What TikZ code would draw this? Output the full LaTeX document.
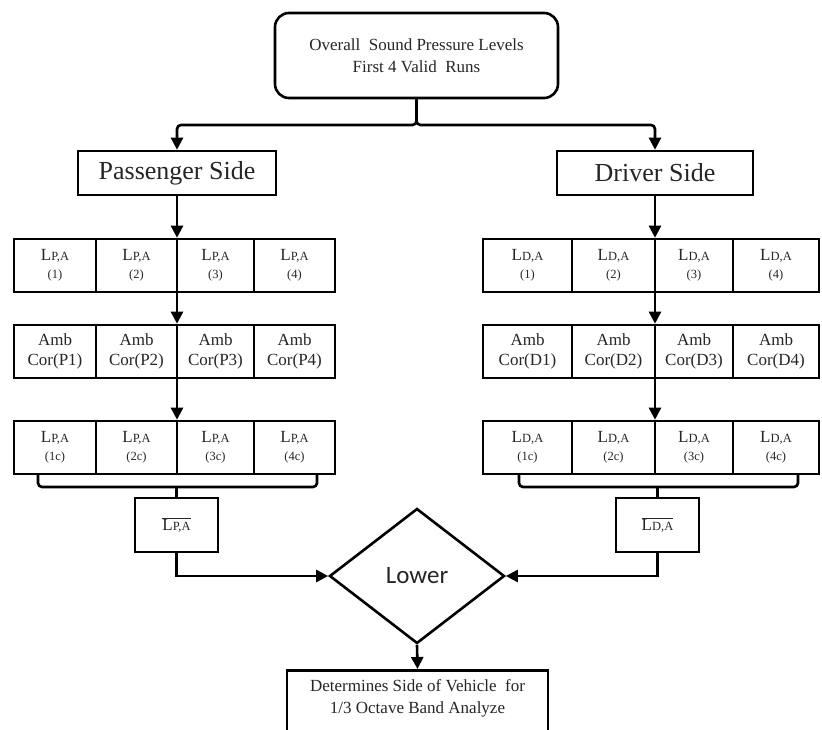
\documentclass[tikz,border=0pt]{standalone}
\usepackage{fontspec}
\setmainfont{Liberation Serif}
\newfontfamily\calib{Carlito}
\usetikzlibrary{arrows.meta,shapes.geometric}
\newcommand{\LPA}[1]{L{\fontsize{12.5}{18}\selectfont #1}}
\newcommand{\numl}[1]{{\fontsize{12.5}{18}\selectfont #1}}
\begin{document}
\begin{tikzpicture}[x=1pt,y=-1pt,
  ln/.style={line width=2.6pt},
  arr/.style={line width=2.6pt,-{Triangle[width=12pt,length=12pt]}},
  box/.style={draw,line width=2.6pt,inner sep=0pt,text=black!85},
  lcell/.style={box,minimum height=53pt,align=center,font=\fontsize{17}{18}\selectfont},
  acell/.style={box,minimum height=53pt,align=center,font=\fontsize{17}{20}\selectfont},
  sidebox/.style={box,minimum height=44pt,font=\fontsize{26}{28}\selectfont},
  meanbox/.style={box,minimum width=83pt,minimum height=54pt,font=\fontsize{17}{18}\selectfont}
]
\clip (0,0) rectangle (822,730);
\fill[white] (0,0) rectangle (822,730);

% top
\node[box,rounded corners=14pt,minimum width=283pt,minimum height=85pt,align=center,
  font=\fontsize{17}{22}\selectfont] (t) at (416.5,55.5)
  {Overall\ \ Sound Pressure Levels\\First 4 Valid\ \ Runs};

\node[sidebox,minimum width=198pt] (ps) at (177,173) {Passenger Side};
\node[sidebox,minimum width=196pt] (ds) at (655,173) {Driver Side};

\coordinate (tb) at (416.5,125);
\draw[arr,rounded corners=4pt] (t.south) -- (tb) -| (ps.north);
\draw[arr,rounded corners=4pt] (t.south) -- (tb) -| (ds.north);

% passenger rows
\node[lcell,minimum width=82pt] (p11) at (55,265.5) {\LPA{P,A}\\\numl{(1)}};
\node[lcell,minimum width=81pt] (p12) at (136.5,265.5) {\LPA{P,A}\\\numl{(2)}};
\node[lcell,minimum width=77pt] (p13) at (215.5,265.5) {\LPA{P,A}\\\numl{(3)}};
\node[lcell,minimum width=81pt] (p14) at (294.5,265.5) {\LPA{P,A}\\\numl{(4)}};

\node[acell,minimum width=82pt] (p21) at (55,351.5) {Amb\\Cor(P1)};
\node[acell,minimum width=81pt] (p22) at (136.5,351.5) {Amb\\Cor(P2)};
\node[acell,minimum width=77pt] (p23) at (215.5,351.5) {Amb\\Cor(P3)};
\node[acell,minimum width=81pt] (p24) at (294.5,351.5) {Amb\\Cor(P4)};

\node[lcell,minimum width=82pt] (p31) at (55,447.5) {\LPA{P,A}\\\numl{(1c)}};
\node[lcell,minimum width=81pt] (p32) at (136.5,447.5) {\LPA{P,A}\\\numl{(2c)}};
\node[lcell,minimum width=77pt] (p33) at (215.5,447.5) {\LPA{P,A}\\\numl{(3c)}};
\node[lcell,minimum width=81pt] (p34) at (294.5,447.5) {\LPA{P,A}\\\numl{(4c)}};

% driver rows
\node[lcell,minimum width=89pt] (d11) at (527.5,265.5) {\LPA{D,A}\\\numl{(1)}};
\node[lcell,minimum width=83pt] (d12) at (613.5,265.5) {\LPA{D,A}\\\numl{(2)}};
\node[lcell,minimum width=78pt] (d13) at (694,265.5) {\LPA{D,A}\\\numl{(3)}};
\node[lcell,minimum width=86pt] (d14) at (776,265.5) {\LPA{D,A}\\\numl{(4)}};

\node[acell,minimum width=89pt] (d21) at (527.5,351.5) {Amb\\Cor(D1)};
\node[acell,minimum width=83pt] (d22) at (613.5,351.5) {Amb\\Cor(D2)};
\node[acell,minimum width=78pt] (d23) at (694,351.5) {Amb\\Cor(D3)};
\node[acell,minimum width=86pt] (d24) at (776,351.5) {Amb\\Cor(D4)};

\node[lcell,minimum width=89pt] (d31) at (527.5,447.5) {\LPA{D,A}\\\numl{(1c)}};
\node[lcell,minimum width=83pt] (d32) at (613.5,447.5) {\LPA{D,A}\\\numl{(2c)}};
\node[lcell,minimum width=78pt] (d33) at (694,447.5) {\LPA{D,A}\\\numl{(3c)}};
\node[lcell,minimum width=86pt] (d34) at (776,447.5) {\LPA{D,A}\\\numl{(4c)}};

% vertical arrows
\draw[arr] (ps.south) -- (ps.south |- p12.north);
\draw[arr] (ps.south |- p12.south) -- (ps.south |- p22.north);
\draw[arr] (ps.south |- p22.south) -- (ps.south |- p32.north);
\draw[arr] (ds.south) -- (ds.south |- d12.north);
\draw[arr] (ds.south |- d12.south) -- (ds.south |- d22.north);
\draw[arr] (ds.south |- d22.south) -- (ds.south |- d32.north);

% mean boxes
\node[meanbox] (pm) at (176.5,525) {$\overline{\hbox{\LPA{P,A}}}$};
\node[meanbox] (dm) at (657.5,525) {$\overline{\hbox{\LPA{D,A}}}$};

% braces
\coordinate (pbl) at (38,474);
\coordinate (pbr) at (317,474);
\coordinate (pbc) at (176.5,487);
\draw[ln,rounded corners=4pt] (pbl) |- (pbc) -| (pbr);
\draw[ln] (pbc) -- (pm.north);
\coordinate (dbl) at (519,474);
\coordinate (dbr) at (798,474);
\coordinate (dbc) at (657.5,487);
\draw[ln,rounded corners=4pt] (dbl) |- (dbc) -| (dbr);
\draw[ln] (dbc) -- (dm.north);

% diamond
\node[draw,line width=2.6pt,diamond,inner sep=0pt,minimum width=175pt,minimum height=135pt,
  font=\calib\fontsize{25}{27}\selectfont,text=black!85] (dia) at (417,576) {Lower};
\draw[arr] (pm.south) |- (dia.west);
\draw[arr] (dm.south) |- (dia.east);

% final
\node[box,anchor=north,minimum width=261pt,inner ysep=9pt,align=center,
  font=\fontsize{17}{22}\selectfont,text depth=40pt] (fb) at (417.5,669)
  {Determines Side of Vehicle\ \ for\\1/3 Octave Band Analyze};
\draw[arr] (dia.south) -- (fb.north);
\end{tikzpicture}
\end{document}
